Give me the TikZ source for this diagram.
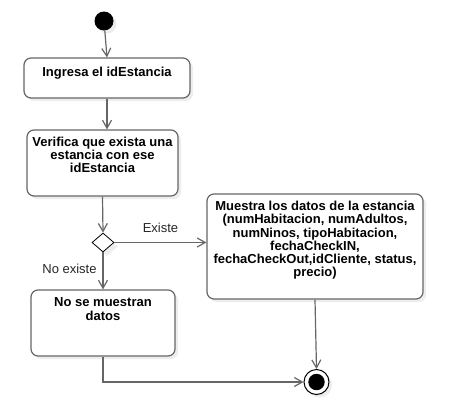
\documentclass[tikz,border=0pt]{standalone}
\usepackage{fontspec}
\setmainfont{Liberation Sans}
\usetikzlibrary{arrows.meta, shapes.geometric, shadows}
\definecolor{linea}{RGB}{102,102,102}
\tikzset{
  caja/.style={draw=linea, line width=1.2pt, rounded corners=7pt, fill=white,
    drop shadow={shadow xshift=3pt, shadow yshift=-3pt, fill=black, opacity=0.07}},
  texto/.style={font=\bfseries\fontsize{13}{13.2}\selectfont, align=center, inner sep=0pt, anchor=north},
  guarda/.style={font=\fontsize{13}{13.2}\selectfont, text=black!85, inner sep=0pt},
  flecha/.style={draw=linea, line width=1.2pt, -{Straight Barb[length=8pt, width=9pt]}},
}

\begin{document}
\begin{tikzpicture}[x=1pt, y=-1pt]
\useasboundingbox (0,0) rectangle (452,410);
% inicio
\node[circle, fill=black, minimum size=19pt, inner sep=0pt,
  drop shadow={shadow xshift=3pt, shadow yshift=-3pt, fill=black, opacity=0.07}] (inicio) at (104,21) {};
% actividades
\node[caja, minimum width=166pt, minimum height=40pt] (ingresa) at (107,78) {};
\node[texto] at ([yshift=-9pt]ingresa.north) {Ingresa el idEstancia};
\node[caja, minimum width=151pt, minimum height=66pt] (verifica) at (102.5,163) {};
\node[texto] at ([yshift=-7.5pt]verifica.north) {Verifica que exista una\\estancia con ese\\idEstancia};
\node[diamond, draw=black, line width=0.8pt, fill=white, minimum width=22pt, minimum height=19pt, inner sep=0pt,
  drop shadow={shadow xshift=4pt, shadow yshift=-4pt, fill=black, opacity=0.07}] (decision) at (103,242.5) {};
\node[caja, minimum width=216pt, minimum height=105pt] (muestra) at (315,246.5) {};
\node[texto] at ([yshift=-7.7pt]muestra.north) {Muestra los datos de la estancia\\(numHabitacion, numAdultos,\\numNinos, tipoHabitacion,\\fechaCheckIN,\\fechaCheckOut,idCliente, status,\\precio)};
\node[caja, minimum width=144pt, minimum height=66pt] (nomuestra) at (103,323) {};
\node[texto] at ([yshift=-8.3pt]nomuestra.north) {No se muestran\\datos};
% fin
\node[circle, draw=black, line width=1pt, fill=white, minimum size=25pt, inner sep=0pt,
  drop shadow={shadow xshift=3pt, shadow yshift=-3pt, fill=black, opacity=0.07}] (fin) at (316.5,382) {};
\fill[black] (fin.center) circle (8.2pt);
% guardas
\node[guarda] (existe) at (160.5,228) {Existe};
\node[guarda] (noexiste) at (69.5,269) {No existe};
% transiciones
\draw[flecha] (inicio) -- (ingresa.north);
\draw[flecha] (ingresa.south) -- (ingresa.south |- verifica.north);
\draw[flecha] (verifica.south) -- (decision.north);
\draw[flecha] (decision.east) -- (decision.east -| muestra.west);
\draw[flecha] (decision.south) -- (nomuestra.north);
\draw[flecha] (muestra.south) -- (fin.north);
\draw[flecha] (nomuestra.south) |- (fin.west);
\end{tikzpicture}
\end{document}
